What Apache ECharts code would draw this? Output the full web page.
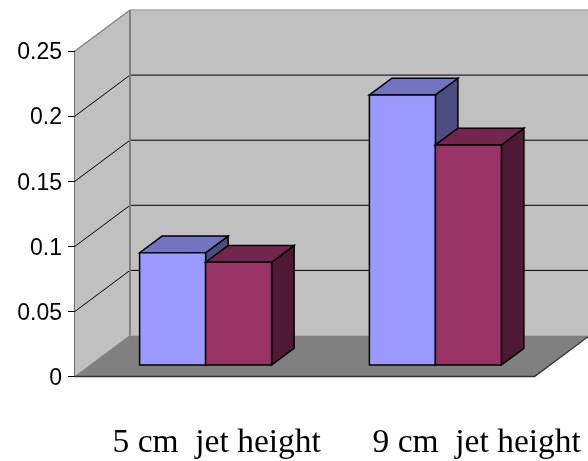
<!DOCTYPE html>
<html>
<head>
<meta charset="utf-8">
<style>html,body{margin:0;padding:0;background:#fff}#chart{width:588px;height:461px}</style>
<script src="https://cdn.jsdelivr.net/npm/echarts@6/dist/echarts.min.js"></script>
</head>
<body>
<div id="chart"></div>
<script>
// Jet height comparison, drawn as an oblique 3D column chart.
const categories = ['5 cm jet height', '9 cm jet height'];
const seriesA = [0.0862, 0.2074];
const seriesB = [0.0789, 0.169];
const gridValues = [0.05, 0.1, 0.15, 0.2];
const axisMax = 0.25;
const axisStep = 0.05;

// Oblique projection: how far the back wall and the column depth shift on screen.
const WALL_DX = 55, WALL_DY = -41;
const BASE_DX = 15.7, BASE_DY = -11.5;
const BAR_DX = 22.5, BAR_DY = -16.7;
const BAR_WIDTH_RATIO = 66 / 229.8;

function pts(list) { return { points: list }; }

// Back wall, side wall, floor and the gridlines that wrap around them.
function renderRoom(params, api) {
  const size = api.size([1, 0]);
  const catW = size[0];
  const left = api.coord([0, 0])[0] - catW / 2;
  const right = left + catW * categories.length;
  const y0 = api.coord([0, 0])[1];
  const yTop = api.coord([0, axisMax])[1];
  const bx = left + WALL_DX, farX = right + WALL_DX;
  const children = [
    { type: 'polygon', shape: pts([[bx, yTop + WALL_DY], [farX, yTop + WALL_DY], [farX, y0 + WALL_DY], [bx, y0 + WALL_DY]]), style: { fill: '#c0c0c0' } },
    { type: 'polygon', shape: pts([[left, yTop], [bx, yTop + WALL_DY], [bx, y0 + WALL_DY], [left, y0]]), style: { fill: '#c0c0c0' } },
    { type: 'polygon', shape: pts([[left, y0], [bx, y0 + WALL_DY], [farX, y0 + WALL_DY], [right, y0]]), style: { fill: '#808080' } }
  ];
  gridValues.forEach(function (v) {
    const y = api.coord([0, v])[1];
    children.push({ type: 'polyline', shape: pts([[left, y], [bx, y + WALL_DY], [farX, y + WALL_DY]]), style: { fill: null, stroke: '#000', lineWidth: 1 } });
  });
  children.push(
    { type: 'line', shape: { x1: bx, y1: yTop + WALL_DY, x2: farX, y2: yTop + WALL_DY }, style: { stroke: '#a8a8a8', lineWidth: 1.5 } },
    { type: 'line', shape: { x1: left, y1: yTop, x2: bx, y2: yTop + WALL_DY }, style: { stroke: '#808080', lineWidth: 1.3 } },
    { type: 'line', shape: { x1: bx, y1: yTop + WALL_DY, x2: bx, y2: y0 + WALL_DY }, style: { stroke: '#808080', lineWidth: 2 } },
    { type: 'line', shape: { x1: left, y1: y0, x2: bx, y2: y0 + WALL_DY }, style: { stroke: '#808080', lineWidth: 1 } },
    { type: 'polyline', shape: pts([[left, y0], [right, y0], [farX, y0 + WALL_DY]]), style: { fill: null, stroke: '#333', lineWidth: 1.3 } }
  );
  return { type: 'group', children: children };
}

// One column: front, top and side faces sitting on the plane partway into the floor.
function barRenderer(offsetSign, front, top, side) {
  return function (params, api) {
    const cat = api.value(0), val = api.value(1);
    const catW = api.size([1, 0])[0];
    const w = catW * BAR_WIDTH_RATIO;
    const p = api.coord([cat, val]);
    const b = api.coord([cat, 0]);
    const xL = p[0] + BASE_DX + (offsetSign < 0 ? -w : 0);
    const xR = xL + w;
    const yT = p[1] + BASE_DY, yB = b[1] + BASE_DY;
    const line = { stroke: '#000', lineWidth: 1.5, lineJoin: 'miter' };
    return {
      type: 'group',
      children: [
        { type: 'polygon', shape: pts([[xR, yT], [xR + BAR_DX, yT + BAR_DY], [xR + BAR_DX, yB + BAR_DY], [xR, yB]]), style: Object.assign({ fill: side }, line) },
        { type: 'polygon', shape: pts([[xL, yT], [xL + BAR_DX, yT + BAR_DY], [xR + BAR_DX, yT + BAR_DY], [xR, yT]]), style: Object.assign({ fill: top }, line) },
        { type: 'polygon', shape: pts([[xL, yT], [xR, yT], [xR, yB], [xL, yB]]), style: Object.assign({ fill: front }, line) }
      ]
    };
  };
}

const indexed = function (values) { return values.map(function (v, i) { return [i, v]; }); };

const chart = echarts.init(document.getElementById('chart'), null, { renderer: 'canvas' });
chart.setOption({
  animation: false,
  backgroundColor: '#fff',
  grid: [
    { left: 75, top: 51, width: 459.6, height: 325.5, outerBoundsMode: 'none' },
    // Carries only the category captions, which sit further apart than the columns.
    { left: 86.7, top: 51, width: 520, height: 325.5, outerBoundsMode: 'none' }
  ],
  xAxis: [
    { type: 'category', gridIndex: 0, data: categories, axisLine: { show: false }, axisTick: { show: false }, axisLabel: { show: false } },
    {
      type: 'category', gridIndex: 1, data: categories,
      axisLine: { show: false }, axisTick: { show: false },
      axisLabel: {
        margin: 50, color: '#000', fontFamily: 'Liberation Serif', fontSize: 33.5, interval: 0,
        // The captions are set with a wider gap before the word "jet".
        formatter: function (value) { return value.replace(' jet', '  jet'); }
      }
    }
  ],
  yAxis: [
    {
      type: 'value', gridIndex: 0, min: 0, max: axisMax, interval: axisStep,
      axisLine: { show: true, lineStyle: { color: '#404040', width: 1.5 } },
      axisTick: { show: true, length: 7, lineStyle: { color: '#000', width: 1 } },
      axisLabel: {
        margin: 13, color: '#000', fontFamily: 'Liberation Sans', fontSize: 23,
        formatter: '{n|{value}}',
        // Sits the numerals slightly below the tick.
        rich: { n: { fontFamily: 'Liberation Sans', fontSize: 23, color: '#000', padding: [4, 0, 0, 0] } }
      },
      splitLine: { show: false }
    },
    { type: 'value', gridIndex: 1, min: 0, max: axisMax, interval: axisStep, show: false }
  ],
  series: [
    { type: 'custom', xAxisIndex: 0, yAxisIndex: 0, clip: false, z: 1, silent: true, data: [[0, 0]], renderItem: renderRoom },
    { type: 'custom', name: 'Series A', xAxisIndex: 0, yAxisIndex: 0, clip: false, z: 2, data: indexed(seriesA), encode: { x: 0, y: 1 }, renderItem: barRenderer(-1, '#9999ff', '#7373bf', '#4d4d80') },
    { type: 'custom', name: 'Series B', xAxisIndex: 0, yAxisIndex: 0, clip: false, z: 3, data: indexed(seriesB), encode: { x: 0, y: 1 }, renderItem: barRenderer(1, '#993366', '#73264d', '#4d1933') }
  ]
});
</script>
</body>
</html>
